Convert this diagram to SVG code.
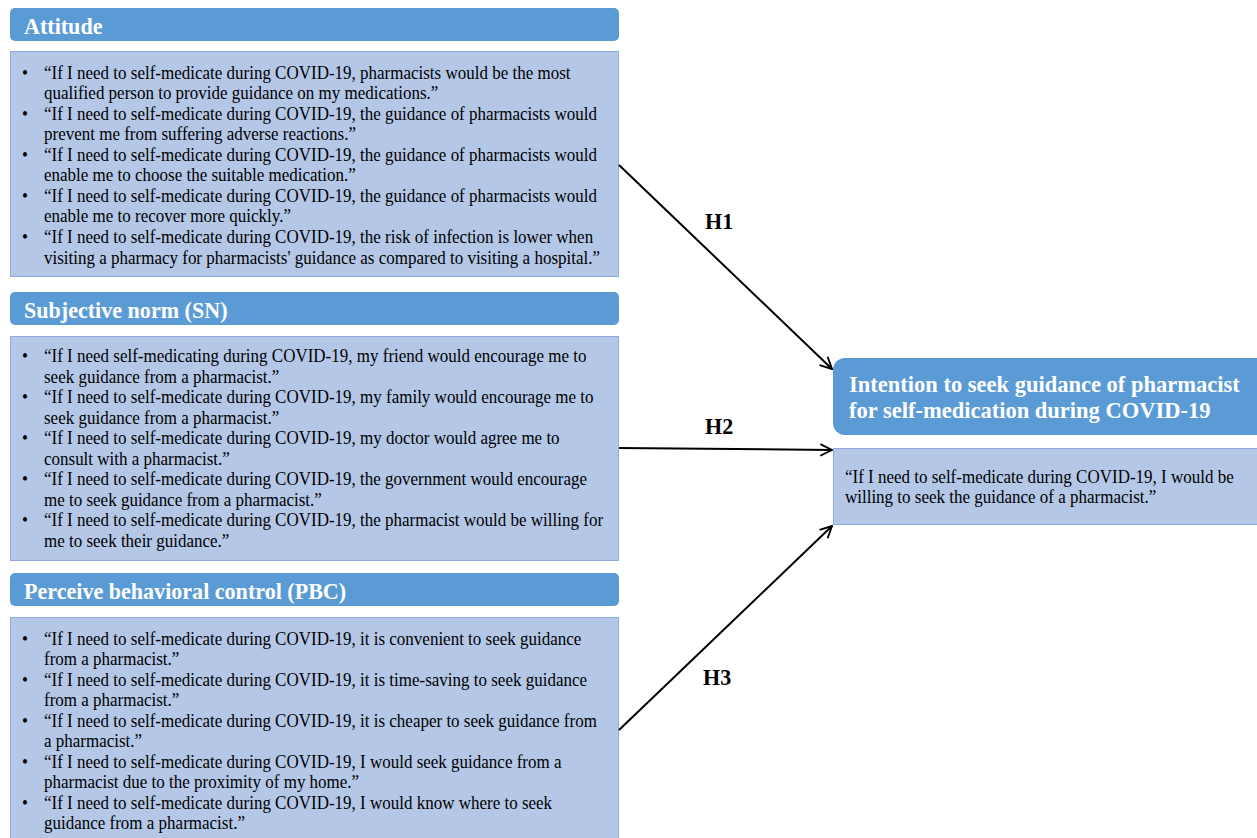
<svg xmlns="http://www.w3.org/2000/svg" width="1257" height="838" viewBox="0 0 1257 838">
<style>
.hdr{fill:#5B9BD5;}
.body{fill:#B4C7E7;stroke:#8FAADC;stroke-width:1;}
.ht{font-family:"Liberation Serif","Times New Roman",serif;font-weight:bold;font-size:24px;fill:#FFFFFF;}
.rt{font-family:"Liberation Serif","Times New Roman",serif;font-weight:bold;font-size:22.5px;fill:#FFFFFF;}
.bt{font-family:"Liberation Serif","Times New Roman",serif;font-size:18px;fill:#000000;}
.lbl{font-family:"Liberation Serif","Times New Roman",serif;font-weight:bold;font-size:24px;fill:#000000;}
.conn{stroke:#000;stroke-width:2;fill:none;marker-end:url(#arr);}
</style>
<defs>
<marker id="arr" viewBox="0 0 12 12" refX="11" refY="6" markerWidth="7" markerHeight="7" markerUnits="strokeWidth" orient="auto">
<path d="M1,1 L11,6 L1,11" fill="none" stroke="#000" stroke-width="1.6"/>
</marker>
</defs>
<rect width="1257" height="838" fill="#FFFFFF"/>

<g id="attitude">
<rect class="hdr" x="10" y="8" width="609" height="33" rx="5"/>
<text class="ht" x="26.09" y="34" transform="scale(0.92 1)">Attitude</text>
<rect class="body" x="10.5" y="51.5" width="608" height="225"/>
<g class="bt" transform="scale(0.944 1)">
<text x="23.3" y="79">•</text><text x="46.61" y="79">“If I need to self-medicate during COVID-19, pharmacists would be the most</text>
<text x="46.61" y="99.5">qualified person to provide guidance on my medications.”</text>
<text x="23.3" y="120">•</text><text x="46.61" y="120">“If I need to self-medicate during COVID-19, the guidance of pharmacists would</text>
<text x="46.61" y="140.5">prevent me from suffering adverse reactions.”</text>
<text x="23.3" y="161">•</text><text x="46.61" y="161">“If I need to self-medicate during COVID-19, the guidance of pharmacists would</text>
<text x="46.61" y="181.5">enable me to choose the suitable medication.”</text>
<text x="23.3" y="202">•</text><text x="46.61" y="202">“If I need to self-medicate during COVID-19, the guidance of pharmacists would</text>
<text x="46.61" y="222.5">enable me to recover more quickly.”</text>
<text x="23.3" y="243.5">•</text><text x="46.61" y="243.5">“If I need to self-medicate during COVID-19, the risk of infection is lower when</text>
<text x="46.61" y="264">visiting a pharmacy for pharmacists' guidance as compared to visiting a hospital.”</text>
</g>
</g>

<g id="subjective-norm">
<rect class="hdr" x="10" y="292" width="609" height="33" rx="5"/>
<text class="ht" x="26.09" y="318" transform="scale(0.92 1)">Subjective norm (SN)</text>
<rect class="body" x="10.5" y="336.5" width="608" height="224"/>
<g class="bt" transform="scale(0.944 1)">
<text x="23.3" y="362">•</text><text x="46.61" y="362">“If I need self-medicating during COVID-19, my friend would encourage me to</text>
<text x="46.61" y="383">seek guidance from a pharmacist.”</text>
<text x="23.3" y="403">•</text><text x="46.61" y="403">“If I need to self-medicate during COVID-19, my family would encourage me to</text>
<text x="46.61" y="424">seek guidance from a pharmacist.”</text>
<text x="23.3" y="444">•</text><text x="46.61" y="444">“If I need to self-medicate during COVID-19, my doctor would agree me to</text>
<text x="46.61" y="465">consult with a pharmacist.”</text>
<text x="23.3" y="485">•</text><text x="46.61" y="485">“If I need to self-medicate during COVID-19, the government would encourage</text>
<text x="46.61" y="506">me to seek guidance from a pharmacist.”</text>
<text x="23.3" y="526">•</text><text x="46.61" y="526">“If I need to self-medicate during COVID-19, the pharmacist would be willing for</text>
<text x="46.61" y="547">me to seek their guidance.”</text>
</g>
</g>

<g id="pbc">
<rect class="hdr" x="10" y="573" width="609" height="33" rx="5"/>
<text class="ht" x="26.09" y="599" transform="scale(0.92 1)">Perceive behavioral control (PBC)</text>
<rect class="body" x="10.5" y="617.5" width="608" height="225"/>
<g class="bt" transform="scale(0.944 1)">
<text x="23.3" y="645">•</text><text x="46.61" y="645">“If I need to self-medicate during COVID-19, it is convenient to seek guidance</text>
<text x="46.61" y="665.5">from a pharmacist.”</text>
<text x="23.3" y="686">•</text><text x="46.61" y="686">“If I need to self-medicate during COVID-19, it is time-saving to seek guidance</text>
<text x="46.61" y="706.5">from a pharmacist.”</text>
<text x="23.3" y="727">•</text><text x="46.61" y="727">“If I need to self-medicate during COVID-19, it is cheaper to seek guidance from</text>
<text x="46.61" y="747.5">a pharmacist.”</text>
<text x="23.3" y="768">•</text><text x="46.61" y="768">“If I need to self-medicate during COVID-19, I would seek guidance from a</text>
<text x="46.61" y="788.5">pharmacist due to the proximity of my home.”</text>
<text x="23.3" y="809">•</text><text x="46.61" y="809">“If I need to self-medicate during COVID-19, I would know where to seek</text>
<text x="46.61" y="829.5">guidance from a pharmacist.”</text>
</g>
</g>

<g id="intention">
<rect class="hdr" x="833" y="358" width="440" height="77" rx="12"/>
<text class="rt" x="849" y="392">Intention to seek guidance of pharmacist</text>
<text class="rt" x="849" y="418">for self-medication during COVID-19</text>
<rect class="body" x="833.5" y="448.5" width="430" height="76"/>
<g class="bt" transform="scale(0.944 1)">
<text x="895.1" y="483">“If I need to self-medicate during COVID-19, I would be</text>
<text x="895.1" y="503.5">willing to seek the guidance of a pharmacist.”</text>
</g>
</g>

<g id="connectors">
<line class="conn" x1="619" y1="165" x2="832" y2="369"/>
<line class="conn" x1="619" y1="448" x2="832" y2="450"/>
<line class="conn" x1="619" y1="730" x2="832" y2="526"/>
<g class="lbl" transform="scale(0.92 1)">
<text x="766.3" y="229">H1</text>
<text x="766.3" y="434">H2</text>
<text x="764.1" y="685">H3</text>
</g>
</g>
</svg>
